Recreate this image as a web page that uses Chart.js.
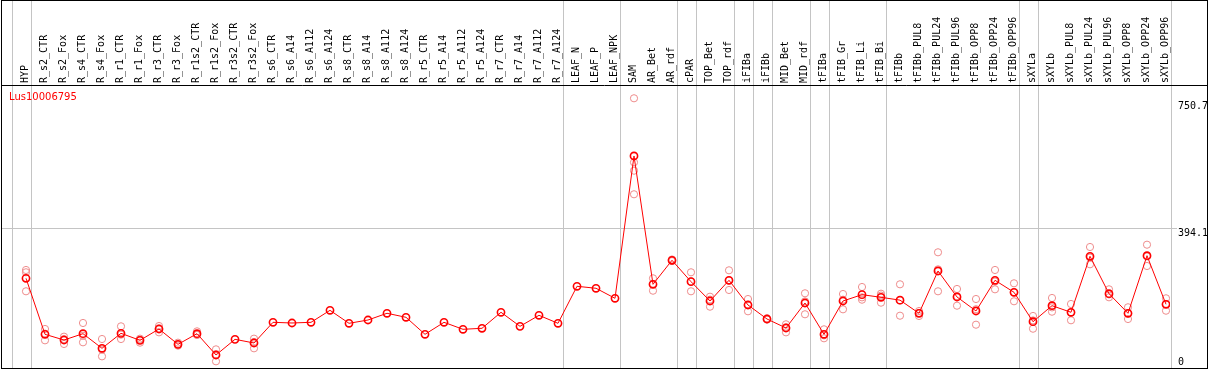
<!DOCTYPE html>
<html>
<head>
<meta charset="utf-8">
<script src="https://cdn.jsdelivr.net/npm/chart.js@4"></script>
<style>
  html, body { margin: 0; padding: 0; background: #fff; }
  canvas { display: block; }
</style>
</head>
<body>
<canvas id="exprChart" width="1209" height="370"></canvas>
<script>
const geneName = 'Lus10006795';

const categories = [
  'HYP', 'R_s2_CTR', 'R_s2_Fox', 'R_s4_CTR', 'R_s4_Fox', 'R_r1_CTR', 'R_r1_Fox',
  'R_r3_CTR', 'R_r3_Fox', 'R_r1s2_CTR', 'R_r1s2_Fox', 'R_r3s2_CTR', 'R_r3s2_Fox',
  'R_s6_CTR', 'R_s6_A14', 'R_s6_A112', 'R_s6_A124', 'R_s8_CTR', 'R_s8_A14',
  'R_s8_A112', 'R_s8_A124', 'R_r5_CTR', 'R_r5_A14', 'R_r5_A112', 'R_r5_A124',
  'R_r7_CTR', 'R_r7_A14', 'R_r7_A112', 'R_r7_A124', 'LEAF_N', 'LEAF_P', 'LEAF_NPK',
  'SAM', 'AR_Bet', 'AR_rdf', 'cPAR', 'TOP_Bet', 'TOP_rdf', 'iFIBa', 'iFIBb',
  'MID_Bet', 'MID_rdf', 'tFIBa', 'tFIB_Gr', 'tFIB_Li', 'tFIB_Bi', 'tFIBb',
  'tFIBb_PUL8', 'tFIBb_PUL24', 'tFIBb_PUL96', 'tFIBb_OPP8', 'tFIBb_OPP24', 'tFIBb_OPP96',
  'sXYLa', 'sXYLb', 'sXYLb_PUL8', 'sXYLb_PUL24', 'sXYLb_PUL96', 'sXYLb_OPP8',
  'sXYLb_OPP24', 'sXYLb_OPP96'
];

// mean expression per sample
const meanValues = [
  252.5, 94.8, 78.8, 96.6, 55.4, 97.6, 77.9, 109.8, 66.6, 96.6, 36.6, 80.7, 70.4,
  128.6, 126.7, 128.6, 162.4, 125.8, 135.1, 154.0, 142.7, 94.8, 128.6, 108.9, 111.8,
  156.8, 117.3, 148.3, 125.8, 230.0, 224.4, 196.2,
  596.8, 235.6, 303.2, 243.0, 188.6, 246.9, 177.3, 137.9, 112.6, 183.0,
  94.8, 188.6, 206.4, 199.0, 191.0,
  154.0, 273.1, 199.9, 160.5, 246.9, 213.1,
  130.3, 175.4, 156.8, 314.4, 209.2, 154.0, 316.1, 179.3
];

// individual replicates (empty where none are shown)
const replicateValues = [
  [275.9, 269.4, 215.9], [109.8, 96.7, 77.9], [88.2, 80.6, 67.6], [126.7, 90.8, 72.3],
  [81.6, 51.8, 32.8], [117.3, 93.9, 81.6], [82.6, 79.8, 71.3], [118.2, 110.8, 100.4],
  [71.3, 65.6, 62.9], [103.2, 93.7, 92.9], [52.5, 38.5, 18.8], [], [82.6, 73.2, 55.4],
  [], [], [], [], [], [], [], [], [], [], [], [], [], [], [], [], [], [], [],
  [759.2, 579.0, 555.4, 489.0], [252.5, 236.7, 217.6], [305.5, 303.2, 300.9],
  [269.4, 243.7, 215.9], [200.7, 192.5, 172.6], [275.0, 246.1, 219.6],
  [194.2, 178.1, 159.6], [139.5, 137.9, 136.3], [123.0, 114.4, 100.4],
  [210.3, 187.5, 151.2], [108.9, 91.9, 83.6], [208.3, 192.3, 165.2],
  [228.0, 198.9, 192.3], [209.2, 203.9, 183.9], [235.6, 190.2, 147.2],
  [160.4, 155.2, 146.4], [325.7, 277.7, 215.9], [222.4, 201.9, 175.4],
  [194.2, 165.4, 121.9], [275.9, 243.3, 221.5], [238.4, 213.1, 187.8],
  [146.4, 133.9, 110.6], [197.1, 170.6, 158.5], [180.2, 155.9, 134.3],
  [340.6, 310.7, 291.9], [221.5, 207.1, 199.0], [170.9, 153.2, 137.9],
  [347.1, 314.1, 287.1], [196.2, 180.4, 161.3]
];

// right-hand value labels
const yTickValues = [750.7, 394.1, 0];
const yGridValues = [394.1];

// group separators: vertical line after this many samples
const groupBreaks = [0, 1, 29, 32, 35, 36, 38, 39, 40, 42, 43, 46, 53, 54, 61];

const meanPoints = meanValues.map((v, i) => ({ x: i, y: v }));
const repPoints = [];
replicateValues.forEach((reps, i) => reps.forEach((v) => repPoints.push({ x: i, y: v })));

const MONO = '10px "DejaVu Sans Mono", monospace';

const framePlugin = {
  id: 'frame',
  beforeDatasetsDraw(chart) {
    const { ctx, scales: { x, y } } = chart;
    ctx.save();
    ctx.strokeStyle = '#c4c4c4';
    ctx.lineWidth = 1;
    groupBreaks.forEach((b) => {
      const px = Math.round(x.getPixelForValue(b - 0.75)) + 0.5;
      ctx.beginPath();
      ctx.moveTo(px, 0);
      ctx.lineTo(px, 369);
      ctx.stroke();
    });
    yGridValues.forEach((v) => {
      const py = Math.round(y.getPixelForValue(v)) + 0.5;
      ctx.beginPath();
      ctx.moveTo(1, py);
      ctx.lineTo(1177, py);
      ctx.stroke();
    });
    ctx.restore();
  },
  afterDraw(chart) {
    const { ctx, scales: { x, y } } = chart;
    ctx.save();
    // outer frame and header line
    ctx.strokeStyle = '#000';
    ctx.lineWidth = 1;
    ctx.strokeRect(1.5, 0.5, 1206, 368);
    ctx.beginPath();
    ctx.moveTo(1, 85.5);
    ctx.lineTo(1208, 85.5);
    ctx.stroke();

    // rotated sample names
    ctx.fillStyle = '#000';
    ctx.font = MONO;
    ctx.textAlign = 'left';
    ctx.textBaseline = 'middle';
    categories.forEach((name, i) => {
      ctx.save();
      ctx.translate(x.getPixelForValue(i) - 1, 83);
      ctx.rotate(-Math.PI / 2);
      ctx.fillText(name, 0, 0);
      ctx.restore();
    });

    // value labels on the right
    yTickValues.forEach((v) => {
      const py = Math.min(y.getPixelForValue(v) + 5, 362);
      ctx.fillText(String(v), 1178, py);
    });

    // gene name
    ctx.fillStyle = '#ff0000';
    ctx.font = '10px "DejaVu Sans", sans-serif';
    ctx.fillText(geneName, 9, 97);
    ctx.restore();
  }
};

new Chart(document.getElementById('exprChart'), {
  type: 'scatter',
  data: {
    datasets: [
      {
        label: 'mean',
        data: meanPoints,
        showLine: true,
        borderColor: '#ff0000',
        borderWidth: 1,
        pointRadius: 3.6,
        pointBorderWidth: 1.6,
        pointBorderColor: '#ff0000',
        pointBackgroundColor: 'rgba(0,0,0,0)',
        tension: 0
      },
      {
        label: 'replicates',
        data: repPoints,
        showLine: false,
        pointRadius: 3.6,
        pointBorderWidth: 1,
        pointBorderColor: 'rgb(238,140,140)',
        pointBackgroundColor: 'rgba(0,0,0,0)'
      }
    ]
  },
  options: {
    responsive: false,
    animation: false,
    devicePixelRatio: 1,
    layout: { autoPadding: false, padding: { left: 1, right: 39, top: 85, bottom: 2 } },
    plugins: { legend: { display: false }, tooltip: { enabled: false } },
    scales: {
      x: { type: 'linear', display: false, min: -25 / 19, max: -25 / 19 + 1169 / 19 },
      y: { display: false, min: 0, max: 796.6 }
    }
  },
  plugins: [framePlugin]
});
</script>
</body>
</html>
